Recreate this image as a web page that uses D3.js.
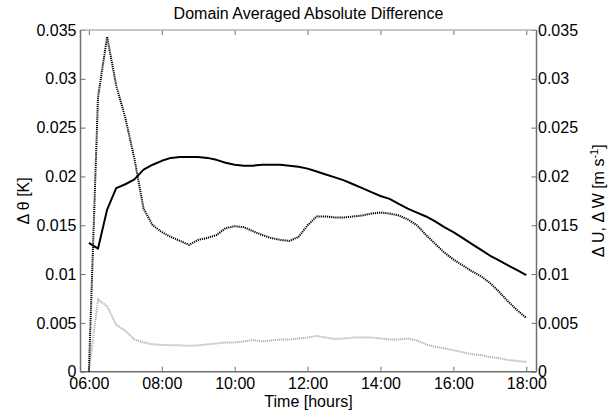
<!DOCTYPE html>
<html>
<head>
<meta charset="utf-8">
<script src="https://cdn.jsdelivr.net/npm/d3@7"></script>
<style>
  html, body { margin: 0; padding: 0; background: #fff; }
  svg { display: block; font-family: "Liberation Sans", Arial, Helvetica, sans-serif; }
</style>
</head>
<body>
<svg id="chart" width="613" height="413"></svg>
<script>
// Sample times (hours, every 15 min from 06:00 to 18:00)
const hours = [
  6.00, 6.25, 6.50, 6.75, 7.00, 7.25, 7.50, 7.75, 8.00, 8.25, 8.50, 8.75,
  9.00, 9.25, 9.50, 9.75, 10.00, 10.25, 10.50, 10.75, 11.00, 11.25, 11.50, 11.75,
  12.00, 12.25, 12.50, 12.75, 13.00, 13.25, 13.50, 13.75, 14.00, 14.25, 14.50, 14.75,
  15.00, 15.25, 15.50, 15.75, 16.00, 16.25, 16.50, 16.75, 17.00, 17.25, 17.50, 17.75, 18.00
];

// Domain-averaged absolute difference of potential temperature [K] (black dotted)
const thetaDiff = [
  0.0000, 0.0281, 0.0343, 0.0293, 0.0260, 0.0218, 0.0167, 0.0150, 0.0143, 0.0138, 0.0134, 0.0130,
  0.0135, 0.0137, 0.0140, 0.0147, 0.0149, 0.0148, 0.0144, 0.0140, 0.0137, 0.0135, 0.0134, 0.0138,
  0.0150, 0.0159, 0.0159, 0.0158, 0.0158, 0.0159, 0.0160, 0.0162, 0.0163, 0.0162, 0.0160, 0.0156,
  0.0150, 0.0140, 0.0131, 0.0122, 0.0115, 0.0109, 0.0103, 0.0098, 0.0091, 0.0082, 0.0072, 0.0063, 0.0055
];

// Horizontal wind difference [m s-1] (black solid)
const uDiff = [
  0.0132, 0.0126, 0.0166, 0.0188, 0.0192, 0.0197, 0.0207, 0.0212, 0.0216, 0.0219, 0.0220, 0.0220,
  0.0220, 0.0219, 0.0217, 0.0214, 0.0212, 0.0211, 0.0211, 0.0212, 0.0212, 0.0212, 0.0211, 0.0210,
  0.0208, 0.0205, 0.0202, 0.0199, 0.0196, 0.0192, 0.0188, 0.0184, 0.0180, 0.0177, 0.0172, 0.0167,
  0.0163, 0.0159, 0.0154, 0.0148, 0.0143, 0.0137, 0.0131, 0.0125, 0.0119, 0.0114, 0.0109, 0.0104, 0.0099
];

// Vertical wind difference [m s-1] (grey dotted)
const wDiff = [
  0.0000, 0.0074, 0.0067, 0.0048, 0.0042, 0.0033, 0.0030, 0.0028, 0.00275, 0.0027, 0.0027, 0.00265,
  0.0027, 0.0028, 0.0029, 0.0030, 0.0030, 0.0031, 0.00325, 0.0031, 0.0032, 0.0033, 0.0033, 0.0034,
  0.0035, 0.00366, 0.0035, 0.00335, 0.0034, 0.0035, 0.0035, 0.0035, 0.0034, 0.0033, 0.0033, 0.0034,
  0.0032, 0.0028, 0.00255, 0.0024, 0.0022, 0.0020, 0.0018, 0.0017, 0.0015, 0.0014, 0.0012, 0.0011, 0.0010
];

const timeTicks = [6, 8, 10, 12, 14, 16, 18];
const timeTickLabels = ["06:00", "08:00", "10:00", "12:00", "14:00", "16:00", "18:00"];
const valueTicks = [0, 0.005, 0.01, 0.015, 0.02, 0.025, 0.03, 0.035];
const valueTickLabels = ["0", "0.005", "0.01", "0.015", "0.02", "0.025", "0.03", "0.035"];

const svg = d3.select("#chart");
const plot = { left: 80.5, right: 536.5, top: 30, bottom: 371.7 };

const x = d3.scaleLinear().domain([5.77, 18.28]).range([plot.left, plot.right]);
const y = d3.scaleLinear().domain([0, 0.035]).range([plot.bottom, plot.top]);

const axisColor = "#6e6e6e";
const fontSize = 16;

function styleAxis(g, color) {
  g.select(".domain").remove();
  g.selectAll(".tick line").attr("stroke", color).attr("stroke-width", 1);
  g.selectAll(".tick text").attr("fill", "#000").style("font-size", fontSize + "px")
    .style("font-family", '"Liberation Sans", Arial, sans-serif');
}

// Bottom axis with inward ticks
svg.append("g")
  .attr("transform", `translate(0,${plot.bottom})`)
  .call(d3.axisBottom(x).tickValues(timeTicks)
    .tickFormat((d, i) => timeTickLabels[i]).tickSize(-5).tickSizeOuter(0).tickPadding(6))
  .call(g => styleAxis(g, axisColor));

// Top axis (ticks only)
svg.append("g")
  .attr("transform", `translate(0,${plot.top})`)
  .call(d3.axisTop(x).tickValues(timeTicks).tickFormat("").tickSize(-5).tickSizeOuter(0))
  .call(g => styleAxis(g, axisColor));

// Left axis
svg.append("g")
  .attr("transform", `translate(${plot.left},0)`)
  .call(d3.axisLeft(y).tickValues(valueTicks)
    .tickFormat((d, i) => valueTickLabels[i]).tickSize(-5).tickSizeOuter(0).tickPadding(4))
  .call(g => styleAxis(g, axisColor));

// Right axis
svg.append("g")
  .attr("transform", `translate(${plot.right},0)`)
  .call(d3.axisRight(y).tickValues(valueTicks)
    .tickFormat((d, i) => valueTickLabels[i]).tickSize(-5).tickSizeOuter(0).tickPadding(1.5))
  .call(g => styleAxis(g, axisColor));

// Frame lines
svg.append("line").attr("x1", plot.left).attr("x2", plot.right)
  .attr("y1", plot.top).attr("y2", plot.top).attr("stroke", "#b2b2b2").attr("stroke-width", 1.5);
svg.append("line").attr("x1", plot.left).attr("x2", plot.right)
  .attr("y1", plot.bottom).attr("y2", plot.bottom).attr("stroke", axisColor).attr("stroke-width", 1.5);
svg.append("line").attr("x1", plot.left).attr("x2", plot.left)
  .attr("y1", plot.top).attr("y2", plot.bottom).attr("stroke", axisColor).attr("stroke-width", 1.5);
svg.append("line").attr("x1", plot.right).attr("x2", plot.right)
  .attr("y1", plot.top).attr("y2", plot.bottom).attr("stroke", axisColor).attr("stroke-width", 1.5);

// Series lines
const line = d3.line().x((d, i) => x(hours[i])).y(d => y(d));

svg.append("path").datum(wDiff)
  .attr("d", line).attr("fill", "none")
  .attr("stroke", "#b4b4b4").attr("stroke-width", 2)
  .attr("stroke-dasharray", "1.2,0.8");

svg.append("path").datum(uDiff)
  .attr("d", line).attr("fill", "none")
  .attr("stroke", "#000").attr("stroke-width", 2)
  .attr("stroke-linejoin", "round");

svg.append("path").datum(thetaDiff)
  .attr("d", line).attr("fill", "none")
  .attr("stroke", "#000").attr("stroke-width", 2)
  .attr("stroke-dasharray", "1.2,0.9");

// Title and axis labels
const midX = (plot.left + plot.right) / 2;
const midY = (plot.top + plot.bottom) / 2;

svg.append("text")
  .attr("x", midX).attr("y", 19)
  .attr("text-anchor", "middle").style("font-size", "16px")
  .text("Domain Averaged Absolute Difference");

svg.append("text")
  .attr("x", midX).attr("y", 407)
  .attr("text-anchor", "middle").style("font-size", "16px")
  .text("Time [hours]");

svg.append("text")
  .attr("transform", `translate(29,${midY}) rotate(-90)`)
  .attr("text-anchor", "middle").style("font-size", "16px")
  .text("Δ θ [K]");

const rightLabel = svg.append("text")
  .attr("transform", `translate(604,${midY}) rotate(-90)`)
  .attr("text-anchor", "middle").style("font-size", "16px");
rightLabel.append("tspan").text("Δ U, Δ W [m s");
rightLabel.append("tspan").attr("baseline-shift", "super").style("font-size", "11px").text("-1");
rightLabel.append("tspan").text("]");
</script>
</body>
</html>
